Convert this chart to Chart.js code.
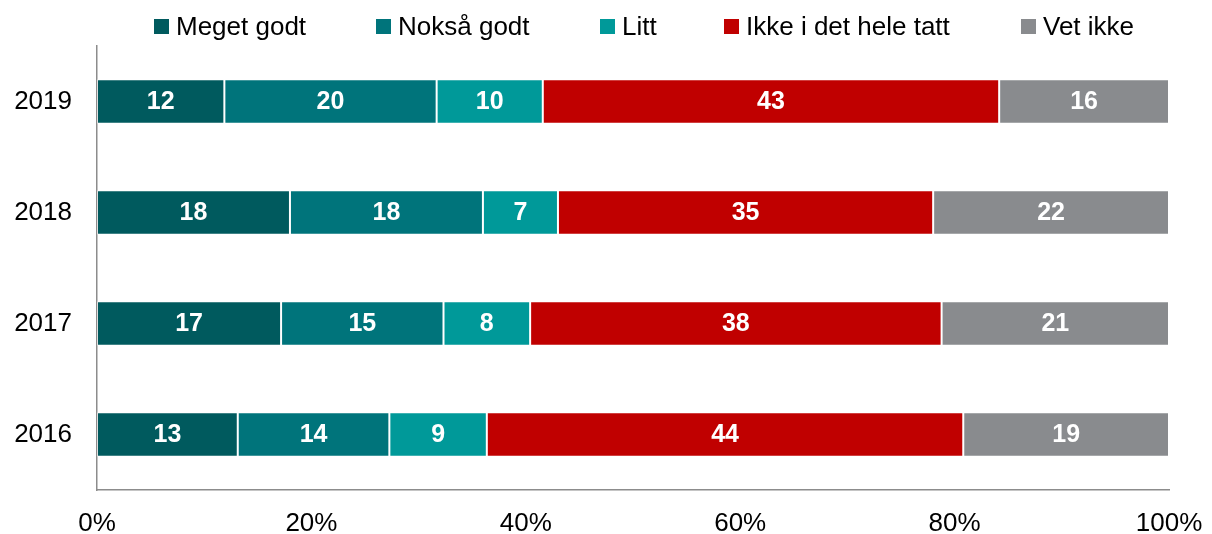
<!DOCTYPE html>
<html>
<head>
<meta charset="utf-8">
<script src="https://cdn.jsdelivr.net/npm/chart.js@4.4.1/dist/chart.umd.min.js"></script>
<style>
  html, body { margin: 0; padding: 0; background: #ffffff; }
  #wrap { width: 1212px; height: 534px; position: relative; }
</style>
</head>
<body>
<div id="wrap"><canvas id="c" width="1212" height="534"></canvas></div>
<script>
// ---- data ----
const years = ['2019', '2018', '2017', '2016'];
const seriesNames = ['Meget godt', 'Nokså godt', 'Litt', 'Ikke i det hele tatt', 'Vet ikke'];
const megetGodt = [12, 18, 17, 13];
const noksaGodt = [20, 18, 15, 14];
const litt = [10, 7, 8, 9];
const ikkeIDetHeleTatt = [43, 35, 38, 44];
const vetIkke = [16, 22, 21, 19];
const xTickValues = [0, 20, 40, 60, 80, 100];

// ---- styles ----
const colors = ['#005a5e', '#00747b', '#009999', '#c00000', '#898b8e'];
const FONT = '"Liberation Sans", Arial, sans-serif';

const rawSeries = [megetGodt, noksaGodt, litt, ikkeIDetHeleTatt, vetIkke];
// 100% stacked: each row normalised to its own total
const totals = years.map((_, i) => rawSeries.reduce((s, arr) => s + arr[i], 0));

const datasets = rawSeries.map((arr, k) => ({
  label: seriesNames[k],
  data: arr.map((v, i) => v / totals[i] * 100),
  raw: arr,
  backgroundColor: colors[k],
  borderColor: 'rgba(255,255,255,0.45)',
  borderWidth: 1,
  borderSkipped: false,
  barPercentage: 0.4,
  categoryPercentage: 1.0
}));

// value labels inside segments
const valueLabels = {
  id: 'valueLabels',
  afterDatasetsDraw(chart) {
    const ctx = chart.ctx;
    ctx.save();
    ctx.font = 'bold 25px ' + FONT;
    ctx.fillStyle = '#ffffff';
    ctx.textAlign = 'center';
    ctx.textBaseline = 'middle';
    chart.data.datasets.forEach((ds, di) => {
      const meta = chart.getDatasetMeta(di);
      meta.data.forEach((bar, i) => {
        const x = (bar.x + bar.base) / 2;
        ctx.fillText(String(ds.raw[i]), x, bar.y + 1);
      });
    });
    ctx.restore();
  }
};

// legend drawn at top, in Excel-like spacing
const topLegend = {
  id: 'topLegend',
  afterDraw(chart, args, opts) {
    const ctx = chart.ctx;
    ctx.save();
    ctx.font = '26px ' + FONT;
    ctx.textBaseline = 'middle';
    ctx.textAlign = 'left';
    chart.data.datasets.forEach((ds, i) => {
      const x = opts.positions[i];
      ctx.fillStyle = ds.backgroundColor;
      ctx.fillRect(x, opts.y - 7.5, 15, 15);
      ctx.fillStyle = '#000000';
      ctx.fillText(ds.label, x + 22, opts.y + 1);
    });
    ctx.restore();
  }
};

new Chart(document.getElementById('c'), {
  type: 'bar',
  data: { labels: years, datasets },
  plugins: [valueLabels, topLegend],
  options: {
    indexAxis: 'y',
    responsive: false,
    animation: false,
    devicePixelRatio: 1,
    layout: { padding: { top: 46, right: 43, left: 0, bottom: 0 } },
    plugins: {
      legend: { display: false },
      tooltip: { enabled: false },
      topLegend: { positions: [154, 376, 600, 724, 1021], y: 26.5 }
    },
    scales: {
      x: {
        stacked: true,
        min: 0,
        max: 100,
        afterBuildTicks(scale) { scale.ticks = xTickValues.map(v => ({ value: v })); },
        grid: { display: false, drawTicks: false },
        border: { display: true, color: '#8c8c8c', width: 1.5 },
        ticks: {
          color: '#000000',
          font: { family: FONT, size: 26 },
          padding: 18,
          maxRotation: 0,
          callback: v => v + '%'
        },
        afterFit(scale) {
          scale.height = 44;
          scale.paddingLeft = 0;
          scale.paddingRight = 0;
        }
      },
      y: {
        stacked: true,
        grid: { display: false, drawTicks: false },
        border: { display: true, color: '#8c8c8c', width: 1.5 },
        ticks: {
          color: '#000000',
          font: { family: FONT, size: 26 },
          padding: 25
        },
        afterFit(scale) { scale.width = 97; }
      }
    }
  }
});
</script>
</body>
</html>
